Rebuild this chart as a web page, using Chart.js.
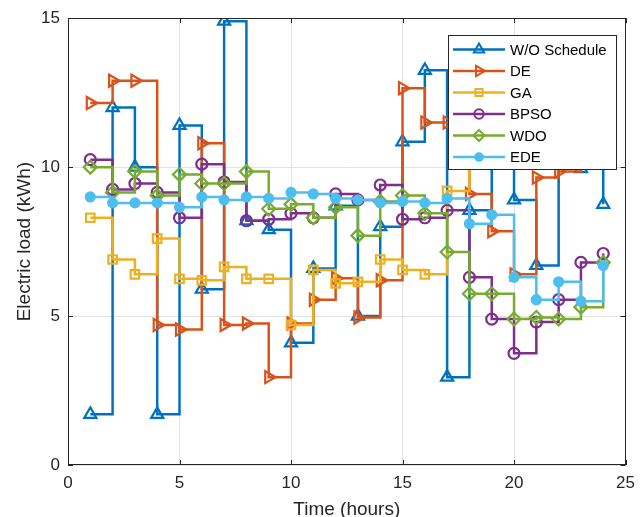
<!DOCTYPE html>
<html>
<head>
<meta charset="utf-8">
<script src="https://cdn.jsdelivr.net/npm/chart.js@4/dist/chart.umd.min.js"></script>
<style>
  html, body { margin: 0; padding: 0; background: #fff; }
  canvas { display: block; }
</style>
</head>
<body>
<canvas id="load-chart" width="643" height="517"></canvas>
<script>
// hourly load per scheduling method (kWh)
const hours = [1, 2, 3, 4, 5, 6, 7, 8, 9, 10, 11, 12, 13, 14, 15, 16, 17, 18, 19, 20, 21, 22, 23, 24];

const woSchedule = [1.7, 12.0, 10.0, 1.7, 11.4, 5.9, 14.9, 8.2, 7.9, 4.1, 6.6, 8.7, 5.0, 8.0, 10.85, 13.25, 2.95, 8.55, 12.0, 8.9, 6.7, 10.5, 9.95, 8.75];
const de = [12.15, 12.9, 12.9, 4.7, 4.55, 10.8, 4.7, 4.75, 2.95, 4.75, 5.55, 6.27, 4.95, 6.2, 12.65, 11.5, 11.5, 9.1, 7.85, 6.4, 9.65, 9.85, 12.0, 12.0];
const ga = [8.3, 6.9, 6.4, 7.6, 6.25, 6.2, 6.65, 6.25, 6.25, 4.7, 6.55, 6.1, 6.15, 6.9, 6.55, 6.4, 9.2, 11.2, 11.6, 10.9, 11.4, 11.8, 11.1, 11.5];
const bpso = [10.25, 9.25, 9.45, 9.15, 8.3, 10.1, 9.5, 8.2, 8.25, 8.45, 8.3, 9.1, 8.9, 9.4, 8.25, 8.3, 8.55, 6.3, 4.9, 3.75, 4.8, 5.55, 6.8, 7.1];
const wdo = [10.0, 9.15, 9.85, 9.05, 9.75, 9.45, 9.45, 9.85, 8.6, 8.75, 8.3, 8.65, 7.7, 8.85, 9.05, 8.45, 7.15, 5.75, 5.75, 4.9, 4.95, 4.9, 5.3, 6.8];
const ede = [9.0, 8.8, 8.8, 8.8, 8.65, 9.0, 8.9, 9.0, 8.95, 9.15, 9.1, 8.95, 8.9, 8.8, 8.85, 8.8, 8.95, 8.1, 8.4, 6.3, 5.55, 6.15, 5.5, 6.7];

const xTicks = [0, 5, 10, 15, 20, 25];
const yTicks = [0, 5, 10, 15];

const series = [
  { label: 'W/O Schedule', values: woSchedule, color: '#0072BD', style: 'triangle', radius: 7, rot: 0, filled: false },
  { label: 'DE', values: de, color: '#D95319', style: 'triangle', radius: 7, rot: 90, filled: false },
  { label: 'GA', values: ga, color: '#EDB120', style: 'rect', radius: 6, rot: 0, filled: false },
  { label: 'BPSO', values: bpso, color: '#7E2F8E', style: 'circle', radius: 5.5, rot: 0, filled: false },
  { label: 'WDO', values: wdo, color: '#77AC30', style: 'rectRot', radius: 6.5, rot: 0, filled: false },
  { label: 'EDE', values: ede, color: '#4DBEEE', style: 'circle', radius: 4.5, rot: 0, filled: true }
];

const axisColor = '#262626';
const fontFamily = '"Liberation Sans", Arial, Helvetica, sans-serif';

let datasets = series.map((s, idx) => ({
  label: s.label,
  data: hours.map((h, i) => ({ x: h, y: s.values[i] })),
  borderColor: s.color,
  backgroundColor: s.color,
  borderWidth: 2.5,
  stepped: 'before',
  fill: false,
  pointStyle: s.style,
  pointRadius: s.radius,
  pointRotation: s.rot,
  pointBorderWidth: 2.2,
  pointBorderColor: s.color,
  pointBackgroundColor: s.filled ? s.color : 'rgba(0,0,0,0)',
  order: series.length - idx
}));

// same shapes as chart.js point styles, for the legend samples
function drawMarker(ctx, s, x, y) {
  let r = s.radius;
  ctx.save();
  ctx.translate(x, y);
  ctx.rotate(s.rot * Math.PI / 180);
  ctx.beginPath();
  if (s.style === 'circle') {
    ctx.arc(0, 0, r, 0, Math.PI * 2);
  } else if (s.style === 'triangle') {
    for (let k = 0; k < 3; k++) {
      let a = k * 2 * Math.PI / 3;
      let px = Math.sin(a) * r, py = -Math.cos(a) * r;
      if (k === 0) ctx.moveTo(px, py); else ctx.lineTo(px, py);
    }
    ctx.closePath();
  } else if (s.style === 'rect') {
    let h = r * Math.SQRT1_2;
    ctx.rect(-h, -h, 2 * h, 2 * h);
  } else if (s.style === 'rectRot') {
    ctx.moveTo(0, -r); ctx.lineTo(r, 0); ctx.lineTo(0, r); ctx.lineTo(-r, 0);
    ctx.closePath();
  }
  ctx.lineWidth = 2;
  ctx.strokeStyle = s.color;
  if (s.filled) { ctx.fillStyle = s.color; ctx.fill(); }
  ctx.stroke();
  ctx.restore();
}

const boxPlugin = {
  id: 'matlabBox',
  afterDatasetsDraw(chart) {
    const { ctx, chartArea: a, scales: { x, y } } = chart;
    ctx.save();
    ctx.strokeStyle = axisColor;
    ctx.lineWidth = 1;
    ctx.strokeRect(Math.round(a.left) + 0.5, Math.round(a.top) + 0.5,
      Math.round(a.right - a.left) - 1, Math.round(a.bottom - a.top) - 1);
    ctx.beginPath();
    xTicks.forEach(t => {
      let px = Math.round(x.getPixelForValue(t)) + 0.5;
      ctx.moveTo(px, a.bottom); ctx.lineTo(px, a.bottom - 5);
      ctx.moveTo(px, a.top); ctx.lineTo(px, a.top + 5);
    });
    yTicks.forEach(t => {
      let py = Math.round(y.getPixelForValue(t)) + 0.5;
      ctx.moveTo(a.left, py); ctx.lineTo(a.left + 5, py);
      ctx.moveTo(a.right, py); ctx.lineTo(a.right - 5, py);
    });
    ctx.stroke();
    ctx.restore();
  },
  afterDraw(chart) {
    const ctx = chart.ctx;
    const bx = 448.5, by = 35.5, bw = 168, bh = 134;
    ctx.save();
    ctx.fillStyle = '#fff';
    ctx.fillRect(bx, by, bw, bh);
    ctx.strokeStyle = axisColor;
    ctx.lineWidth = 1;
    ctx.strokeRect(bx, by, bw, bh);
    ctx.font = '15px ' + fontFamily;
    ctx.textBaseline = 'middle';
    ctx.textAlign = 'left';
    series.forEach((s, i) => {
      let ry = 49.5 + i * 21.5;
      ctx.beginPath();
      ctx.strokeStyle = s.color;
      ctx.lineWidth = 2.5;
      ctx.moveTo(453, ry); ctx.lineTo(505, ry);
      ctx.stroke();
      drawMarker(ctx, Object.assign({}, s, { radius: s.radius * 0.85 }), 479, ry);
      ctx.fillStyle = '#000';
      ctx.fillText(s.label, 510, ry + 1);
    });
    ctx.restore();
  }
};

const canvas = document.querySelector('#load-chart');

const loadChart = new Chart(canvas, {
  type: 'line',
  data: { datasets },
  options: {
    responsive: false,
    animation: false,
    devicePixelRatio: 1,
    layout: { padding: { top: 18, right: 11, left: 0, bottom: 0 } },
    plugins: { legend: { display: false }, tooltip: { enabled: false } },
    scales: {
      x: {
        type: 'linear',
        min: 0,
        max: 25,
        afterBuildTicks: s => { s.ticks = xTicks.map(v => ({ value: v })); },
        afterFit: s => { s.height = 52; },
        ticks: { color: axisColor, font: { family: fontFamily, size: 17 }, padding: 8, maxRotation: 0 },
        grid: { color: '#e3e3e3', drawTicks: false },
        border: { display: false },
        title: { display: true, text: 'Time (hours)', color: axisColor,
          font: { family: fontFamily, size: 19, lineHeight: 0.8 }, padding: 0 }
      },
      y: {
        type: 'linear',
        min: 0,
        max: 15,
        afterBuildTicks: s => { s.ticks = yTicks.map(v => ({ value: v })); },
        afterFit: s => { s.width = 68; },
        ticks: { color: axisColor, font: { family: fontFamily, size: 17 }, padding: 8 },
        grid: { color: '#e3e3e3', drawTicks: false },
        border: { display: false },
        title: { display: true, text: 'Electric load (kWh)', color: axisColor,
          font: { family: fontFamily, size: 19, lineHeight: 0.8 }, padding: { top: 17, bottom: 0 } }
      }
    }
  },
  plugins: [boxPlugin]
});
</script>
</body>
</html>
